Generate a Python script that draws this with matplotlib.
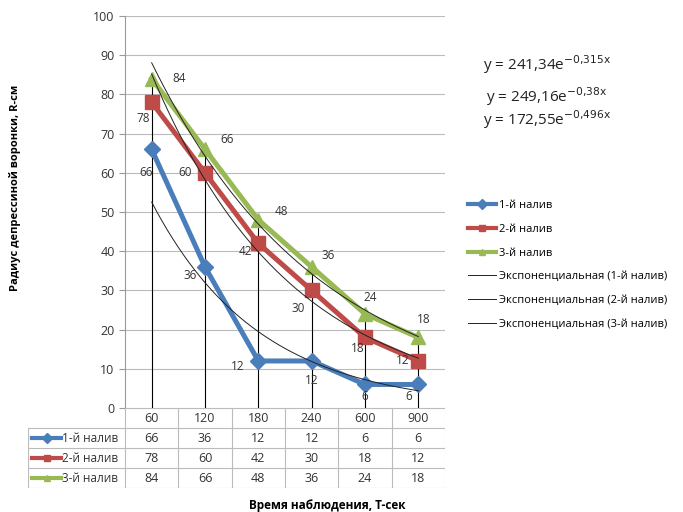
import numpy as np
import matplotlib
matplotlib.use("Agg")
import matplotlib.pyplot as plt
from matplotlib.lines import Line2D

plt.rcParams['font.family'] = ['Open Sans', 'DejaVu Sans']

# данные
times = ['60', '120', '180', '240', '600', '900']
s1 = [66, 36, 12, 12, 6, 6]
s2 = [78, 60, 42, 30, 18, 12]
s3 = [84, 66, 48, 36, 24, 18]
names = ['1-й налив', '2-й налив', '3-й налив']
equations = [r'y = 241,34e$^{\mathrm{-0{,}315x}}$',
             r'y = 249,16e$^{\mathrm{-0{,}38x}}$',
             r'y = 172,55e$^{\mathrm{-0{,}496x}}$']

colors = ['#4A7EBB', '#BE4B48', '#98B954']
markers = ['D', 's', '^']
msizes = [8, 10, 10]
# смещения подписей (точки)
label_off = [
    [(-4, -16.5), (-11, -6), (-15, -4), (0, -14), (0, -9), (-7, -9)],
    [(-6, -11.5), (-14.5, 0), (-9, -6), (-10, -13), (-5, -8), (-11, 0)],
    [(19.5, 0.5), (16, 7), (16.5, 6), (12, 8.5), (4, 12), (4, 13)],
]

W, H = 683, 512
fig = plt.figure(figsize=(W / 100, H / 100), dpi=100)
ax = fig.add_axes([125 / W, 1 - 408 / H, 320 / W, 392 / H])

x = np.arange(1, len(times) + 1)
series = [s1, s2, s3]

# вертикальные линии проекции
top = np.max(series, axis=0)
ax.vlines(x, 0, top, color='black', lw=0.8, zorder=2)

for i, s in enumerate(series):
    ax.plot(x, s, color=colors[i], lw=3.6, marker=markers[i], ms=msizes[i],
            zorder=3, label=names[i])
    for xi, v, off in zip(x, s, label_off[i]):
        ax.annotate(str(v), (xi, v), xytext=off, textcoords='offset points',
                    ha='center', va='center', fontsize=8.5, color='#333333', zorder=5)

# экспоненциальные линии тренда
xf = np.linspace(1, len(times), 200)
for i, s in enumerate(series):
    k, b = np.polyfit(x, np.log(s), 1)
    ax.plot(xf, np.exp(b + k * xf), color='#222222', lw=0.7, zorder=4,
            label='Экспоненциальная (%s)' % names[i])

ax.set_xlim(0.5, len(times) + 0.5)
ax.set_ylim(0, 100)
ax.set_yticks(range(0, 101, 10))
ax.set_xticks([])
ax.tick_params(axis='y', labelsize=9, length=4, color='#999999', labelcolor='#333333')
ax.grid(axis='y', color='#BBBBBB', lw=0.8)
ax.set_axisbelow(True)
for sp in ['top', 'right', 'bottom']:
    ax.spines[sp].set_visible(False)
ax.spines['left'].set_color('#999999')

fig.text(15 / W, 1 - 188 / H, 'Радиус депрессиной воронки, R-см', fontsize=8,
         fontweight='bold', rotation=90, ha='center', va='center')

# легенда
handles = [Line2D([], [], color=colors[i], lw=3, marker=markers[i], ms=5) for i in range(3)]
handles += [Line2D([], [], color='#222222', lw=0.7) for i in range(3)]
labels = names + ['Экспоненциальная (%s)' % n for n in names]
fig.legend(handles, labels, loc='upper left', bbox_to_anchor=(458 / W, 1 - 190 / H),
           frameon=False, fontsize=8, handlelength=2.5, handletextpad=0.3,
           labelspacing=1.15)

# уравнения
for j, eq in enumerate(equations):
    fig.text(547 / W, 1 - [65, 97, 120][j] / H, eq, fontsize=11, ha='center', va='center',
             color='#222222')

# таблица данных
tx = fig.add_axes([28 / W, 1 - 488 / H, 417 / W, 80 / H])
left = 0.5 - 97 / (320 / 6)
tx.set_xlim(left, len(times) + 0.5)
tx.set_ylim(4, 0)
tx.axis('off')
gc = '#BBBBBB'
for b in np.arange(0.5, len(times) + 1):
    tx.plot([b, b], [0, 4], color=gc, lw=0.8)
tx.plot([left, left], [1, 4], color=gc, lw=0.8)
tx.plot([0.5, len(times) + 0.5], [0, 0], color=gc, lw=0.8)
for r in range(1, 5):
    tx.plot([left, len(times) + 0.5], [r, r], color=gc, lw=0.8)
for xi, t in zip(x, times):
    tx.text(xi, 0.5, t, ha='center', va='center', fontsize=9, color='#333333')
for i, s in enumerate(series):
    yy = i + 1.5
    tx.plot([left + 0.08, left + 0.62], [yy, yy], color=colors[i], lw=3)
    tx.plot([left + 0.35], [yy], color=colors[i], marker=markers[i], ms=5)
    tx.text(left + 0.64, yy, names[i], ha='left', va='center', fontsize=8.5, color='#333333')
    for xi, v in zip(x, s):
        tx.text(xi, yy, str(v), ha='center', va='center', fontsize=9, color='#333333')

fig.text(327 / W, 1 - 505 / H, 'Время наблюдения, T-сек', fontsize=8.5,
         fontweight='bold', ha='center', va='center')

fig.savefig('out.png', dpi=100)
